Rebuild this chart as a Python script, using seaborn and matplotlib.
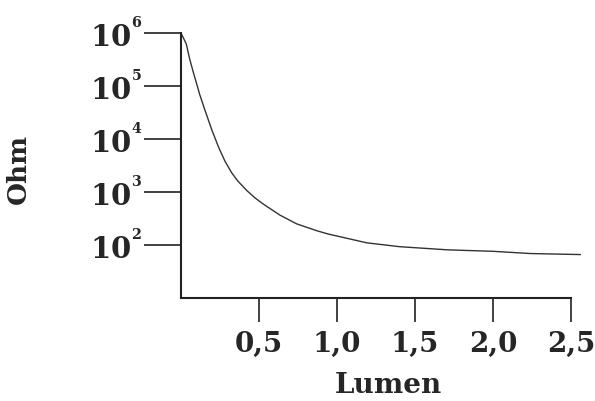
import matplotlib
matplotlib.use("Agg")
import matplotlib.pyplot as plt
import seaborn as sns
import pandas as pd

# Valores (escala log em y)
lumen = [0.0, 0.034, 0.056, 0.077, 0.12, 0.152, 0.197, 0.24, 0.282, 0.325,
         0.365, 0.421, 0.474, 0.528, 0.635, 0.742, 0.87, 0.94, 1.19, 1.40,
         1.71, 2.0, 2.24, 2.56]
ohm = [1.0e6, 6.2e5, 3.2e5, 1.9e5, 6.9e4, 3.6e4, 1.5e4, 7.1e3, 3.8e3, 2.3e3,
       1.6e3, 1.07e3, 775, 590, 365, 250, 186, 162, 110, 93,
       81, 76, 69, 66]

x_ticks = [0.5, 1.0, 1.5, 2.0, 2.5]
x_labels = ["0,5", "1,0", "1,5", "2,0", "2,5"]
y_ticks = [1e2, 1e3, 1e4, 1e5, 1e6]
y_labels = [r"$\mathbf{10}^{{}^{\mathbf{2}}}$", r"$\mathbf{10}^{{}^{\mathbf{3}}}$",
            r"$\mathbf{10}^{{}^{\mathbf{4}}}$", r"$\mathbf{10}^{{}^{\mathbf{5}}}$",
            r"$\mathbf{10}^{{}^{\mathbf{6}}}$"]

sns.set_style("ticks")
plt.rcParams["font.family"] = ["DejaVu Serif"]
plt.rcParams["font.weight"] = "bold"
plt.rcParams["mathtext.fontset"] = "custom"
plt.rcParams["mathtext.rm"] = "DejaVu Serif:bold"
plt.rcParams["mathtext.bf"] = "DejaVu Serif:bold"

df = pd.DataFrame({"Lumen": lumen, "Ohm": ohm})

fig = plt.figure(figsize=(5.95, 4.01), dpi=100)
ax = fig.add_axes([181 / 595, 103 / 401, 401 / 595, 265 / 401])
sns.lineplot(data=df, x="Lumen", y="Ohm", ax=ax, color="#333333", linewidth=1.0)

ax.set_yscale("log")
ax.set_xlim(0, 2.57)
ax.set_ylim(10, 1e6)
ax.set_xticks(x_ticks)
ax.set_xticklabels(x_labels)
ax.set_yticks(y_ticks)
ax.set_yticklabels(y_labels)
ax.minorticks_off()

for lado in ["top", "right"]:
    ax.spines[lado].set_visible(False)
for lado in ["left", "bottom"]:
    ax.spines[lado].set_linewidth(1.5)
    ax.spines[lado].set_color("#222222")
ax.spines["bottom"].set_bounds(0, 2.5)

ax.tick_params(axis="y", length=27, width=1.3, color="#333333", pad=1,
               labelsize=21)
ax.tick_params(axis="x", length=17, width=1.3, color="#333333", pad=7,
               labelsize=20)

ax.set_xlabel("Lumen", fontsize=20, fontweight="bold")
ax.set_ylabel("Ohm", fontsize=19, fontweight="bold")
ax.yaxis.set_label_coords(-0.375, 0.487)
ax.xaxis.set_label_coords(0.516, -0.28)

plt.savefig("out.png", dpi=100)
plt.close()
